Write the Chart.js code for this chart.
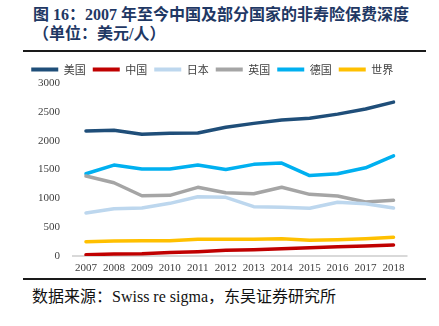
<!DOCTYPE html>
<html lang="zh-CN">
<head>
<meta charset="utf-8">
<script src="https://cdn.jsdelivr.net/npm/chart.js@4/dist/chart.umd.min.js"></script>
<style>
  html, body { margin: 0; padding: 0; background: #fff; }
  body { width: 439px; height: 326px; position: relative; overflow: hidden; }
  .title {
    position: absolute; left: 33px; color: #1f3864;
    font: bold 16px/20px "Liberation Serif", "Noto Sans CJK SC", serif;
    white-space: nowrap;
  }
  .rule { position: absolute; left: 23px; width: 403px; height: 2px; background: #1a1a1a; }
  .source {
    position: absolute; left: 32px; top: 287px; color: #111;
    font: 16px/20px "Liberation Serif", "Noto Sans CJK SC", serif;
    white-space: nowrap;
  }
  #wrap { position: absolute; left: 17px; top: 57px; width: 422px; height: 221px; }
</style>
</head>
<body>
<div class="title" style="top:5px">图 16：2007 年至今中国及部分国家的非寿险保费深度</div>
<div class="title" style="top:24px">（单位：美元/人）</div>
<div class="rule" style="top:50px"></div>
<div id="wrap"><canvas id="c"></canvas></div>
<div class="rule" style="top:278px"></div>
<div class="source">数据来源：Swiss re sigma，东吴证券研究所</div>

<script>
// Non-life insurance density, USD per person
const years = ['2007','2008','2009','2010','2011','2012','2013','2014','2015','2016','2017','2018'];
const usa     = [2168, 2179, 2110, 2127, 2133, 2232, 2300, 2360, 2390, 2460, 2550, 2668];
const china   = [23, 35, 40, 62, 75, 98, 110, 127, 144, 162, 173, 191];
const japan   = [745, 820, 832, 913, 1028, 1017, 856, 844, 827, 931, 907, 832];
const uk      = [1386, 1270, 1045, 1052, 1191, 1097, 1080, 1191, 1069, 1040, 936, 965];
const germany = [1426, 1577, 1508, 1508, 1577, 1500, 1589, 1612, 1395, 1426, 1530, 1738];
const world   = [248, 260, 266, 266, 289, 289, 289, 300, 272, 283, 300, 324];
const yTicks  = [0, 500, 1000, 1500, 2000, 2500, 3000];

const seriesNames = ['美国', '中国', '日本', '英国', '德国', '世界'];
const seriesData = [usa, china, japan, uk, germany, world];
const seriesColors = ['#1f4e79', '#c00000', '#bdd7ee', '#a5a5a5', '#00b0f0', '#ffc000'];

const datasets = seriesNames.map((name, i) => ({
  label: name,
  data: seriesData[i],
  borderColor: seriesColors[i],
  backgroundColor: seriesColors[i],
  borderWidth: 3.5,
  pointRadius: 0,
  pointHoverRadius: 0,
  tension: 0,
  borderCapStyle: 'round',
  borderJoinStyle: 'round'
}));

const tickFont = { family: '"Liberation Serif", "Times New Roman", serif', size: 11 };

new Chart(document.getElementById('c'), {
  type: 'line',
  data: { labels: years, datasets: datasets },
  options: {
    responsive: true,
    maintainAspectRatio: false,
    animation: false,
    layout: { padding: { left: 0, right: 31.5, top: 0, bottom: 0 } },
    plugins: {
      tooltip: { enabled: false },
      legend: {
        position: 'top',
        maxHeight: 26,
        labels: {
          boxWidth: 27,
          boxHeight: 4,
          padding: 7,
          color: '#404040',
          font: { family: '"Noto Sans CJK SC", sans-serif', size: 11 },
          generateLabels: (chart) =>
            Chart.defaults.plugins.legend.labels.generateLabels(chart)
              .map(item => Object.assign(item, { lineWidth: 0 }))
        }
      }
    },
    scales: {
      x: {
        offset: true,
        grid: { display: false, drawTicks: false },
        border: { display: false },
        ticks: { color: '#404040', font: tickFont, padding: 6, maxRotation: 0, autoSkip: false },
        afterFit: (scale) => { scale.height = 22; }
      },
      y: {
        min: 0,
        max: 3000,
        afterBuildTicks: (scale) => { scale.ticks = yTicks.map(v => ({ value: v })); },
        grid: {
          drawTicks: false,
          lineWidth: 2,
          color: (ctx) => (ctx.tick && ctx.tick.value === 0 ? '#d9d9d9' : 'rgba(0,0,0,0)')
        },
        border: { display: false },
        ticks: {
          color: '#404040',
          font: tickFont,
          padding: 12,
          callback: (value) => String(value)
        },
        afterFit: (scale) => { scale.width = 55; }
      }
    }
  }
});
</script>
</body>
</html>
